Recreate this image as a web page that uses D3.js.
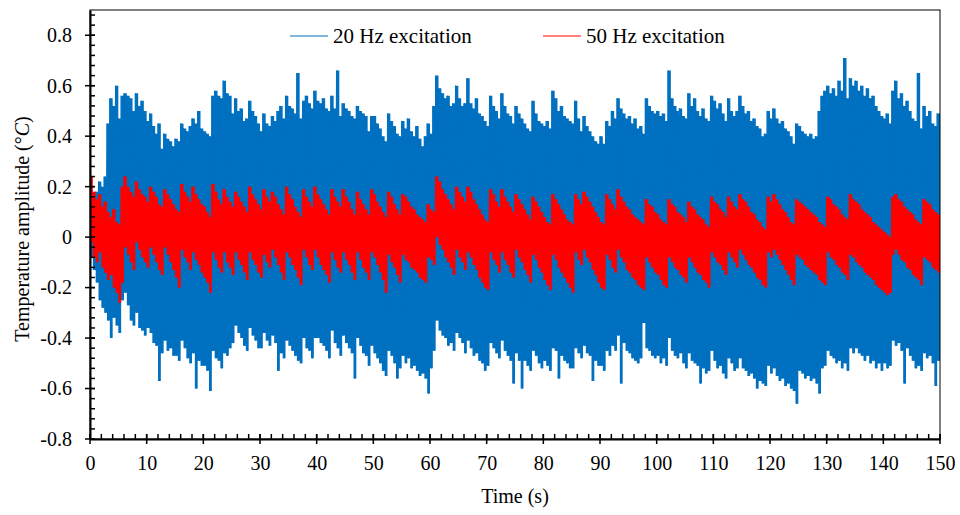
<!DOCTYPE html>
<html>
<head>
<meta charset="utf-8">
<script src="https://cdn.jsdelivr.net/npm/d3@7"></script>
<style>
  body { margin: 0; background: #fff; }
  svg text { font-family: "Liberation Serif", "Times New Roman", serif; fill: #000; }
</style>
</head>
<body>
<div id="plot"></div>
<script>
// peaks (hi) and troughs (lo) every 0.5 s, t = 0 .. 150 s
const step = 0.5;

const blueHi = [
  0.08, 0.14, 0.18, 0.22, 0.20, 0.24, 0.45, 0.55, 0.52, 0.60,
  0.47, 0.56, 0.57, 0.56, 0.55, 0.50, 0.57, 0.52, 0.54, 0.50,
  0.46, 0.49, 0.44, 0.41, 0.45, 0.35, 0.41, 0.39, 0.38, 0.36,
  0.39, 0.38, 0.45, 0.43, 0.42, 0.44, 0.47, 0.45, 0.50, 0.43,
  0.42, 0.41, 0.40, 0.56, 0.58, 0.56, 0.55, 0.62, 0.57, 0.56,
  0.49, 0.55, 0.50, 0.51, 0.46, 0.47, 0.54, 0.50, 0.48, 0.45,
  0.42, 0.49, 0.45, 0.44, 0.48, 0.46, 0.50, 0.52, 0.47, 0.56,
  0.52, 0.51, 0.49, 0.65, 0.47, 0.54, 0.56, 0.53, 0.51, 0.58,
  0.54, 0.53, 0.55, 0.51, 0.50, 0.56, 0.51, 0.66, 0.48, 0.53,
  0.51, 0.50, 0.48, 0.47, 0.52, 0.50, 0.49, 0.48, 0.42, 0.48,
  0.48, 0.45, 0.43, 0.40, 0.38, 0.49, 0.46, 0.44, 0.41, 0.40,
  0.46, 0.43, 0.47, 0.42, 0.40, 0.44, 0.39, 0.36, 0.40, 0.45,
  0.41, 0.52, 0.64, 0.59, 0.57, 0.55, 0.56, 0.52, 0.53, 0.60,
  0.55, 0.52, 0.53, 0.63, 0.53, 0.51, 0.55, 0.49, 0.48, 0.46,
  0.44, 0.56, 0.52, 0.50, 0.47, 0.57, 0.52, 0.49, 0.48, 0.45,
  0.52, 0.49, 0.47, 0.45, 0.43, 0.42, 0.54, 0.49, 0.46, 0.45,
  0.44, 0.46, 0.43, 0.58, 0.55, 0.50, 0.52, 0.48, 0.47, 0.46,
  0.45, 0.54, 0.47, 0.42, 0.48, 0.44, 0.42, 0.40, 0.38, 0.37,
  0.40, 0.37, 0.46, 0.44, 0.50, 0.47, 0.55, 0.51, 0.49, 0.47,
  0.48, 0.45, 0.47, 0.43, 0.44, 0.41, 0.55, 0.52, 0.50, 0.49,
  0.50, 0.48, 0.49, 0.46, 0.66, 0.55, 0.52, 0.50, 0.51, 0.48,
  0.47, 0.57, 0.52, 0.55, 0.50, 0.48, 0.51, 0.47, 0.46, 0.56,
  0.54, 0.51, 0.53, 0.49, 0.46, 0.55, 0.50, 0.48, 0.50, 0.56,
  0.52, 0.49, 0.50, 0.46, 0.47, 0.44, 0.43, 0.40, 0.41, 0.50,
  0.47, 0.51, 0.47, 0.45, 0.46, 0.43, 0.42, 0.40, 0.37, 0.45,
  0.44, 0.42, 0.41, 0.40, 0.41, 0.39, 0.40, 0.50, 0.56, 0.58,
  0.60, 0.57, 0.59, 0.56, 0.62, 0.58, 0.71, 0.55, 0.63, 0.60,
  0.62, 0.58, 0.60, 0.56, 0.59, 0.55, 0.56, 0.52, 0.50, 0.48,
  0.47, 0.49, 0.45, 0.58, 0.62, 0.55, 0.57, 0.52, 0.54, 0.50,
  0.47, 0.46, 0.65, 0.43, 0.52, 0.48, 0.50, 0.45, 0.44, 0.49,
  0.49
];
const blueLo = [
  -0.08, -0.13, -0.18, -0.25, -0.28, -0.30, -0.33, -0.40, -0.32, -0.35,
  -0.38, -0.25, -0.22, -0.27, -0.33, -0.35, -0.30, -0.36, -0.37, -0.39,
  -0.36, -0.38, -0.42, -0.43, -0.57, -0.46, -0.41, -0.45, -0.44, -0.47,
  -0.47, -0.49, -0.41, -0.44, -0.48, -0.50, -0.46, -0.60, -0.49, -0.51,
  -0.51, -0.53, -0.61, -0.45, -0.48, -0.49, -0.52, -0.46, -0.47, -0.44,
  -0.42, -0.35, -0.38, -0.40, -0.43, -0.45, -0.36, -0.39, -0.41, -0.44,
  -0.44, -0.38, -0.41, -0.43, -0.39, -0.42, -0.53, -0.46, -0.48, -0.41,
  -0.43, -0.45, -0.47, -0.49, -0.50, -0.40, -0.44, -0.45, -0.48, -0.40,
  -0.40, -0.42, -0.43, -0.45, -0.48, -0.37, -0.42, -0.44, -0.47, -0.39,
  -0.42, -0.44, -0.46, -0.56, -0.40, -0.43, -0.46, -0.47, -0.51, -0.43,
  -0.46, -0.48, -0.50, -0.53, -0.55, -0.45, -0.47, -0.50, -0.56, -0.52,
  -0.47, -0.50, -0.48, -0.52, -0.51, -0.53, -0.55, -0.54, -0.56, -0.62,
  -0.52, -0.45, -0.33, -0.37, -0.39, -0.40, -0.43, -0.42, -0.45, -0.38,
  -0.40, -0.42, -0.46, -0.41, -0.44, -0.47, -0.46, -0.49, -0.50, -0.53,
  -0.51, -0.42, -0.44, -0.46, -0.48, -0.41, -0.45, -0.47, -0.49, -0.58,
  -0.46, -0.49, -0.60, -0.49, -0.51, -0.53, -0.45, -0.47, -0.50, -0.52,
  -0.49, -0.51, -0.53, -0.44, -0.45, -0.56, -0.47, -0.49, -0.50, -0.52,
  -0.52, -0.44, -0.46, -0.48, -0.43, -0.46, -0.47, -0.57, -0.49, -0.51,
  -0.51, -0.53, -0.45, -0.47, -0.43, -0.45, -0.39, -0.58, -0.42, -0.45,
  -0.46, -0.48, -0.49, -0.50, -0.48, -0.34, -0.44, -0.45, -0.47, -0.48,
  -0.47, -0.50, -0.48, -0.51, -0.40, -0.45, -0.47, -0.48, -0.46, -0.50,
  -0.52, -0.46, -0.49, -0.50, -0.51, -0.58, -0.52, -0.54, -0.53, -0.45,
  -0.49, -0.52, -0.51, -0.54, -0.56, -0.48, -0.50, -0.53, -0.52, -0.48,
  -0.52, -0.53, -0.55, -0.54, -0.56, -0.60, -0.57, -0.58, -0.59, -0.51,
  -0.54, -0.52, -0.55, -0.57, -0.56, -0.59, -0.58, -0.60, -0.61, -0.66,
  -0.53, -0.54, -0.56, -0.55, -0.57, -0.56, -0.58, -0.62, -0.52, -0.51,
  -0.45, -0.47, -0.48, -0.50, -0.49, -0.52, -0.50, -0.53, -0.44, -0.46,
  -0.44, -0.46, -0.47, -0.49, -0.47, -0.50, -0.49, -0.52, -0.50, -0.53,
  -0.50, -0.52, -0.51, -0.41, -0.43, -0.42, -0.45, -0.58, -0.44, -0.47,
  -0.49, -0.52, -0.51, -0.53, -0.46, -0.48, -0.47, -0.50, -0.59, -0.49,
  -0.45
];
const redHi = [
  0.24, 0.18, 0.15, 0.17, 0.12, 0.14, 0.10, 0.08, 0.11, 0.06,
  0.05, 0.20, 0.24, 0.20, 0.18, 0.16, 0.22, 0.19, 0.17, 0.16,
  0.14, 0.20, 0.18, 0.16, 0.13, 0.12, 0.19, 0.17, 0.15, 0.13,
  0.11, 0.10, 0.21, 0.18, 0.16, 0.14, 0.20, 0.17, 0.15, 0.13,
  0.12, 0.10, 0.08, 0.21, 0.18, 0.15, 0.13, 0.19, 0.16, 0.14,
  0.12, 0.18, 0.16, 0.14, 0.12, 0.10, 0.20, 0.17, 0.15, 0.13,
  0.11, 0.19, 0.16, 0.14, 0.18, 0.16, 0.13, 0.11, 0.09, 0.20,
  0.17, 0.15, 0.12, 0.10, 0.08, 0.19, 0.16, 0.14, 0.12, 0.20,
  0.17, 0.15, 0.13, 0.11, 0.09, 0.19, 0.16, 0.14, 0.12, 0.19,
  0.16, 0.14, 0.11, 0.09, 0.18, 0.15, 0.13, 0.11, 0.09, 0.19,
  0.17, 0.14, 0.12, 0.10, 0.08, 0.18, 0.16, 0.13, 0.11, 0.09,
  0.17, 0.16, 0.14, 0.12, 0.11, 0.09, 0.08, 0.07, 0.06, 0.13,
  0.11, 0.10, 0.24, 0.22, 0.19, 0.17, 0.15, 0.13, 0.11, 0.20,
  0.18, 0.16, 0.14, 0.20, 0.18, 0.15, 0.13, 0.11, 0.09, 0.07,
  0.06, 0.19, 0.17, 0.14, 0.12, 0.19, 0.16, 0.14, 0.12, 0.10,
  0.17, 0.15, 0.13, 0.11, 0.09, 0.07, 0.16, 0.14, 0.12, 0.10,
  0.08, 0.06, 0.05, 0.17, 0.15, 0.13, 0.11, 0.09, 0.07, 0.06,
  0.05, 0.17, 0.15, 0.13, 0.18, 0.16, 0.14, 0.12, 0.10, 0.08,
  0.06, 0.05, 0.17, 0.15, 0.13, 0.11, 0.19, 0.16, 0.14, 0.12,
  0.11, 0.09, 0.08, 0.07, 0.06, 0.05, 0.15, 0.13, 0.12, 0.10,
  0.09, 0.07, 0.06, 0.05, 0.15, 0.13, 0.12, 0.10, 0.09, 0.08,
  0.06, 0.14, 0.12, 0.11, 0.09, 0.08, 0.07, 0.05, 0.04, 0.16,
  0.14, 0.13, 0.11, 0.10, 0.08, 0.16, 0.14, 0.12, 0.11, 0.17,
  0.15, 0.14, 0.12, 0.10, 0.09, 0.07, 0.06, 0.04, 0.03, 0.16,
  0.14, 0.17, 0.15, 0.13, 0.11, 0.10, 0.08, 0.06, 0.05, 0.15,
  0.14, 0.13, 0.12, 0.11, 0.10, 0.09, 0.08, 0.06, 0.05, 0.04,
  0.16, 0.15, 0.13, 0.12, 0.11, 0.09, 0.08, 0.07, 0.17, 0.15,
  0.14, 0.13, 0.11, 0.10, 0.09, 0.08, 0.06, 0.05, 0.04, 0.03,
  0.02, 0.01, 0.00, 0.16, 0.17, 0.15, 0.14, 0.12, 0.11, 0.10,
  0.09, 0.07, 0.06, 0.05, 0.15, 0.14, 0.13, 0.11, 0.10, 0.09,
  0.09
];
const redLo = [
  -0.02, -0.08, -0.10, -0.06, -0.12, -0.14, -0.17, -0.15, -0.20, -0.22,
  -0.26, -0.18, -0.04, -0.07, -0.10, -0.13, -0.02, -0.05, -0.08, -0.10,
  -0.12, -0.04, -0.07, -0.10, -0.13, -0.15, -0.04, -0.07, -0.10, -0.13,
  -0.16, -0.20, -0.05, -0.08, -0.10, -0.13, -0.06, -0.09, -0.11, -0.14,
  -0.16, -0.18, -0.22, -0.06, -0.09, -0.12, -0.14, -0.06, -0.10, -0.12,
  -0.15, -0.06, -0.09, -0.11, -0.14, -0.17, -0.06, -0.09, -0.11, -0.14,
  -0.16, -0.07, -0.10, -0.12, -0.05, -0.08, -0.11, -0.14, -0.17, -0.06,
  -0.08, -0.11, -0.13, -0.16, -0.19, -0.05, -0.08, -0.11, -0.13, -0.05,
  -0.08, -0.11, -0.13, -0.15, -0.18, -0.06, -0.09, -0.12, -0.14, -0.06,
  -0.09, -0.11, -0.14, -0.17, -0.06, -0.09, -0.12, -0.14, -0.17, -0.06,
  -0.08, -0.11, -0.14, -0.17, -0.22, -0.07, -0.10, -0.12, -0.15, -0.18,
  -0.07, -0.09, -0.10, -0.12, -0.13, -0.14, -0.16, -0.17, -0.18, -0.08,
  -0.09, -0.11, 0.00, -0.03, -0.05, -0.08, -0.10, -0.12, -0.15, -0.05,
  -0.08, -0.10, -0.13, -0.06, -0.08, -0.11, -0.13, -0.16, -0.18, -0.20,
  -0.21, -0.06, -0.09, -0.11, -0.14, -0.06, -0.09, -0.11, -0.14, -0.16,
  -0.05, -0.08, -0.10, -0.13, -0.15, -0.18, -0.07, -0.09, -0.12, -0.14,
  -0.17, -0.19, -0.21, -0.07, -0.09, -0.12, -0.14, -0.16, -0.18, -0.20,
  -0.22, -0.06, -0.09, -0.11, -0.05, -0.08, -0.10, -0.13, -0.15, -0.18,
  -0.20, -0.21, -0.07, -0.09, -0.12, -0.14, -0.05, -0.08, -0.10, -0.13,
  -0.14, -0.16, -0.17, -0.19, -0.20, -0.21, -0.08, -0.10, -0.12, -0.14,
  -0.15, -0.17, -0.19, -0.20, -0.08, -0.10, -0.12, -0.13, -0.15, -0.16,
  -0.18, -0.08, -0.10, -0.12, -0.14, -0.15, -0.17, -0.18, -0.20, -0.06,
  -0.08, -0.10, -0.11, -0.13, -0.15, -0.06, -0.08, -0.10, -0.12, -0.05,
  -0.07, -0.09, -0.11, -0.12, -0.14, -0.16, -0.17, -0.19, -0.20, -0.06,
  -0.08, -0.05, -0.07, -0.09, -0.11, -0.13, -0.15, -0.17, -0.19, -0.07,
  -0.08, -0.09, -0.11, -0.12, -0.13, -0.14, -0.15, -0.17, -0.18, -0.19,
  -0.06, -0.08, -0.09, -0.11, -0.12, -0.14, -0.15, -0.17, -0.07, -0.08,
  -0.10, -0.11, -0.12, -0.14, -0.15, -0.16, -0.17, -0.19, -0.20, -0.21,
  -0.22, -0.23, -0.22, -0.07, -0.05, -0.07, -0.09, -0.10, -0.12, -0.13,
  -0.15, -0.16, -0.17, -0.19, -0.08, -0.09, -0.10, -0.12, -0.13, -0.14,
  -0.11
];

const seriesNames = ['20 Hz excitation', '50 Hz excitation'];
const colors = ['#0070C0', '#FF0000'];
const xTicks = [0, 10, 20, 30, 40, 50, 60, 70, 80, 90, 100, 110, 120, 130, 140, 150];
const yTicks = [-0.8, -0.6, -0.4, -0.2, 0, 0.2, 0.4, 0.6, 0.8];
const yTickLabels = ['-0.8', '-0.6', '-0.4', '-0.2', '0', '0.2', '0.4', '0.6', '0.8'];

let margin = { top: 10, right: 20, bottom: 76, left: 90 },
    width = 960 - margin.left - margin.right,
    height = 515 - margin.top - margin.bottom;

let svg = d3.select("#plot")
    .append("svg")
    .attr("width", width + margin.left + margin.right)
    .attr("height", height + margin.top + margin.bottom)
    .append("g")
    .attr("transform", "translate(" + margin.left + "," + margin.top + ")");

let x = d3.scaleLinear().domain([0, 150]).range([0, width]);
let y = d3.scaleLinear().domain([-0.8, 0.9]).range([height, 0]);

svg.append("clipPath").attr("id", "clip")
    .append("rect").attr("width", width).attr("height", height);

// peak then trough, half a step apart
const zigzag = (hi, lo) => hi.flatMap((h, i) => [[i * step, h], [i * step + step / 2, lo[i]]]);

const line = d3.line()
    .x(d => x(d[0]))
    .y(d => y(d[1]));

// the signal is so dense that it reads as a solid band between peaks and troughs
const band = d3.area()
    .curve(d3.curveStepAfter)
    .x((d, i) => x(i * step))
    .y0(d => y(d[1]))
    .y1(d => y(d[0]));

[[blueHi, blueLo], [redHi, redLo]].forEach(([hi, lo], i) => {
    svg.append("path")
        .datum(hi.map((h, j) => [h, lo[j]]))
        .attr("clip-path", "url(#clip)")
        .attr("fill", colors[i])
        .attr("d", band);
    svg.append("path")
        .datum(zigzag(hi, lo))
        .attr("clip-path", "url(#clip)")
        .attr("fill", "none")
        .attr("stroke", colors[i])
        .attr("stroke-width", 1)
        .attr("d", line);
});

// frame
svg.append("rect")
    .attr("width", width).attr("height", height)
    .attr("fill", "none").attr("stroke", "#000").attr("stroke-width", 1);

// minor ticks (inside)
const xMinor = d3.range(0, 151, 2);
const yMinor = d3.range(-0.8, 0.9, 0.04);
svg.append("g").selectAll("line").data(xMinor).join("line")
    .attr("x1", d => x(d)).attr("x2", d => x(d))
    .attr("y1", height).attr("y2", height - 5)
    .attr("stroke", "#000").attr("stroke-width", 1.5);
svg.append("g").selectAll("line").data(yMinor).join("line")
    .attr("x1", 0).attr("x2", 5)
    .attr("y1", d => y(d)).attr("y2", d => y(d))
    .attr("stroke", "#000").attr("stroke-width", 1.5);

// major ticks cross the axis
svg.append("g").selectAll("line").data(xTicks).join("line")
    .attr("x1", d => x(d)).attr("x2", d => x(d))
    .attr("y1", height - 5).attr("y2", height + 5)
    .attr("stroke", "#000").attr("stroke-width", 1.5);
svg.append("g").selectAll("line").data(yTicks).join("line")
    .attr("x1", -5).attr("x2", 5)
    .attr("y1", d => y(d)).attr("y2", d => y(d))
    .attr("stroke", "#000").attr("stroke-width", 1.5);

let xAxis = svg.append("g")
    .attr("transform", "translate(0," + height + ")")
    .call(d3.axisBottom(x).tickValues(xTicks).tickSize(5).tickSizeOuter(0).tickPadding(12));
let yAxis = svg.append("g")
    .call(d3.axisLeft(y).tickValues(yTicks).tickFormat((d, i) => yTickLabels[i])
        .tickSize(5).tickSizeOuter(0).tickPadding(13));

[xAxis, yAxis].forEach(g => {
    g.select(".domain").attr("stroke", "#000").attr("stroke-width", 2);
    g.selectAll(".tick line").remove();
    g.selectAll("text")
        .attr("font-family", '"Liberation Serif", "Times New Roman", serif')
        .attr("font-size", 20)
        .attr("fill", "#000");
});

svg.append("text")
    .attr("x", width / 2)
    .attr("y", 493)
    .attr("text-anchor", "middle")
    .attr("font-size", 20)
    .text("Time (s)");

let yTitle = svg.append("text")
    .attr("transform", "translate(-61," + 219 + ") rotate(-90)")
    .attr("text-anchor", "middle")
    .attr("font-size", 20);
yTitle.append("tspan").text("Temperature amplitude (°");
yTitle.append("tspan").attr("font-style", "italic").text("C");
yTitle.append("tspan").text(")");

// legend
const legendX = [200, 453];
seriesNames.forEach((name, i) => {
    let g = svg.append("g").attr("transform", "translate(" + legendX[i] + ",26)");
    g.append("line")
        .attr("x1", 0).attr("x2", 38)
        .attr("stroke", colors[i]).attr("stroke-width", 1);
    g.append("text")
        .attr("x", 43).attr("y", 7)
        .attr("font-size", 21)
        .text(name);
});
</script>
</body>
</html>
